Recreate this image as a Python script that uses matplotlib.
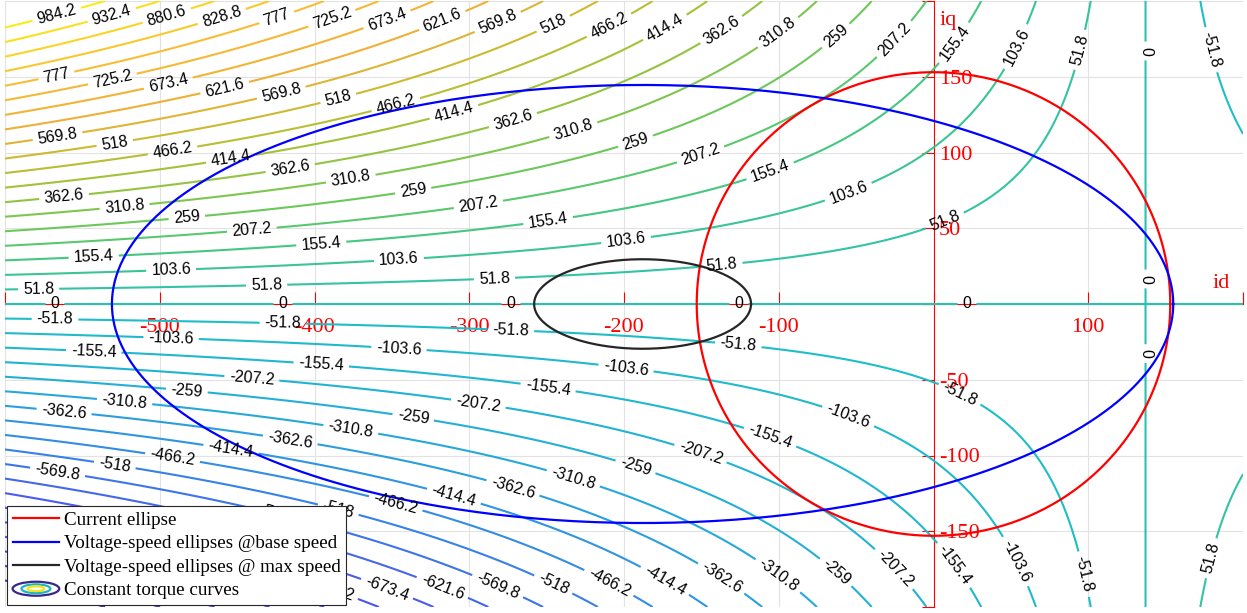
import numpy as np
import matplotlib
matplotlib.use('Agg')
import matplotlib.pyplot as plt
from matplotlib.colors import LinearSegmentedColormap, Normalize
from matplotlib.legend_handler import HandlerBase
from matplotlib.lines import Line2D
from matplotlib.patches import Ellipse

plt.rcParams['font.family'] = 'Liberation Sans'

# motor parameters (read back from the ellipses and the torque curves)
flux_pm = 0.0955        # Wb
L_d = 0.000508          # H
L_q = 0.001205          # H
pole_pairs = 7
i_max = 153.0           # A, current limit circle
flux_base = 0.1742      # V/omega at base speed
flux_top = 0.0356       # V/omega at max speed

id_lim = [-600, 200]
iq_lim = [-200, 200]
torque_step = 51.8
n_steps = 19

x_ticks = [-600, -500, -400, -300, -200, -100, 0, 100, 200]
x_tick_labels = ['', '-500', '-400', '-300', '-200', '-100', '', '100', '']
y_ticks = [-200, -150, -100, -50, 0, 50, 100, 150, 200]
y_tick_labels = ['', '-150', '-100', '-50', '', '50', '100', '150', '']

legend_labels = ['Current ellipse',
                 'Voltage-speed ellipses @base speed',
                 'Voltage-speed ellipses @ max speed',
                 'Constant torque curves']

# parula-like map (newer, brighter variant)
cmap_pts = [
    (0.00, (0.242, 0.150, 0.660)),
    (0.10, (0.280, 0.280, 0.920)),
    (0.19, (0.290, 0.360, 0.930)),
    (0.28, (0.200, 0.550, 0.900)),
    (0.38, (0.140, 0.690, 0.840)),
    (0.476, (0.120, 0.745, 0.780)),
    (0.524, (0.200, 0.765, 0.650)),
    (0.572, (0.270, 0.780, 0.510)),
    (0.62, (0.430, 0.785, 0.350)),
    (0.69, (0.630, 0.765, 0.220)),
    (0.74, (0.800, 0.730, 0.200)),
    (0.79, (0.940, 0.690, 0.220)),
    (0.86, (0.970, 0.740, 0.210)),
    (0.956, (0.980, 0.920, 0.100)),
    (1.00, (0.977, 0.984, 0.080))]
parula = LinearSegmentedColormap.from_list('parula2', cmap_pts)

key_colors = ['#35288f', '#1db5c2', '#f2e51c']
key_scales = [(1.0, 1.05), (0.62, 0.66), (0.36, 0.36)]


class ContourKey:
    pass


class HandlerContourKey(HandlerBase):
    def create_artists(self, legend, orig_handle, xdescent, ydescent,
                       width, height, fontsize, trans):
        cx = width / 2 - xdescent
        cy = height / 2 - ydescent
        rings = []
        for (sw, sh), c in zip(key_scales, key_colors):
            rings.append(Ellipse((cx, cy), width * sw, height * sh, fill=False,
                                 edgecolor=c, lw=1.6, transform=trans))
        return rings


def label_points(cs, ax, offset=50, spacing=228, end_gap=28,
                 left_start=(0.0, -torque_step)):
    # MATLAB-like: labels every `spacing` px along each line
    pts = []
    for lev, path in zip(cs.levels, cs.get_paths()):
        verts = path.vertices
        if len(verts) < 2:
            continue
        codes = path.codes
        starts = list(np.flatnonzero(codes == 1)) if codes is not None else [0]
        bounds = starts + [len(verts)]
        for a, b in zip(bounds[:-1], bounds[1:]):
            seg = verts[a:b]
            if len(seg) < 2:
                continue
            if np.any(np.isclose(lev, left_start)):
                if seg[-1, 0] < seg[0, 0]:
                    seg = seg[::-1]
            elif abs(seg[-1, 1]) > abs(seg[0, 1]):
                seg = seg[::-1]
            d = ax.transData.transform(seg)
            arc = np.r_[0, np.cumsum(np.hypot(*np.diff(d, axis=0).T))]
            s = offset
            while s < arc[-1] - end_gap:
                pts.append((np.interp(s, arc, seg[:, 0]), np.interp(s, arc, seg[:, 1])))
                s += spacing
    return pts


fig = plt.figure(figsize=(12.47, 6.13), dpi=100)
ax = fig.add_axes([5 / 1247, 6 / 613, 1238 / 1247, 606 / 613])
ax.set_xlim(id_lim)
ax.set_ylim(iq_lim)

# torque surface
i_d = np.linspace(id_lim[0], id_lim[1], 800)
i_q = np.linspace(iq_lim[0], iq_lim[1], 400)
ID, IQ = np.meshgrid(i_d, i_q)
T = 1.5 * pole_pairs * IQ * (flux_pm + (L_d - L_q) * ID)
levels = torque_step * np.arange(-n_steps, n_steps + 1)

cs = ax.contour(ID, IQ, T, levels=levels, cmap=parula,
                norm=Normalize(T.min(), T.max()), linewidths=1.5, zorder=2)
ax.clabel(cs, inline=True, inline_spacing=5, fontsize=11.5, fmt='%g',
          colors='k', manual=label_points(cs, ax))

# current limit and voltage ellipses
t = np.linspace(0, 2 * np.pi, 500)
ax.plot(i_max * np.cos(t), i_max * np.sin(t), color='red', lw=1.6, zorder=3)
ax.plot((flux_base * np.cos(t) - flux_pm) / L_d, flux_base * np.sin(t) / L_q,
        color='blue', lw=1.6, zorder=3)
ax.plot((flux_top * np.cos(t) - flux_pm) / L_d, flux_top * np.sin(t) / L_q,
        color='#262626', lw=1.6, zorder=3)

# axes through the origin
ax.spines['left'].set_visible(False)
ax.spines['top'].set_visible(False)
ax.spines['bottom'].set_position(('data', 0))
ax.spines['right'].set_position(('data', 0))
for side in ['bottom', 'right']:
    ax.spines[side].set_color('red')
    ax.spines[side].set_linewidth(0.8)
    ax.spines[side].set_zorder(1)
ax.yaxis.tick_right()
ax.set_xticks(x_ticks, x_tick_labels)
ax.set_yticks(y_ticks, y_tick_labels)
ax.tick_params(axis='x', direction='in', length=9, width=0.8, color='red',
               labelcolor='red', labelsize=16, pad=10)
ax.tick_params(axis='y', direction='in', length=9, width=0.8, color='red',
               labelcolor='red', labelsize=16, pad=4)
for lbl in ax.get_xticklabels() + ax.get_yticklabels():
    lbl.set_fontfamily('Liberation Serif')
ax.grid(True, color='#e2e2e2', lw=0.8)
ax.set_axisbelow(True)

ax.text(4, 184, 'iq', color='red', fontfamily='Liberation Serif', fontsize=16,
        ha='left', va='baseline')
ax.text(180, 10.7, 'id', color='red', fontfamily='Liberation Serif', fontsize=16,
        ha='left', va='baseline')

handles = [Line2D([], [], color='red', lw=1.6),
           Line2D([], [], color='blue', lw=1.6),
           Line2D([], [], color='#262626', lw=1.6),
           ContourKey()]
leg = ax.legend(handles, legend_labels, loc='lower left', bbox_to_anchor=(0, 0),
                borderaxespad=0.1, fancybox=False, edgecolor='#262626',
                framealpha=1, prop={'family': 'Liberation Serif', 'size': 13.7},
                handlelength=2.45, handletextpad=0.25, labelspacing=0.33,
                borderpad=0.3, handler_map={ContourKey: HandlerContourKey()})
leg.get_frame().set_linewidth(0.8)
leg.set_zorder(5)

fig.savefig('out.png', dpi=100)
